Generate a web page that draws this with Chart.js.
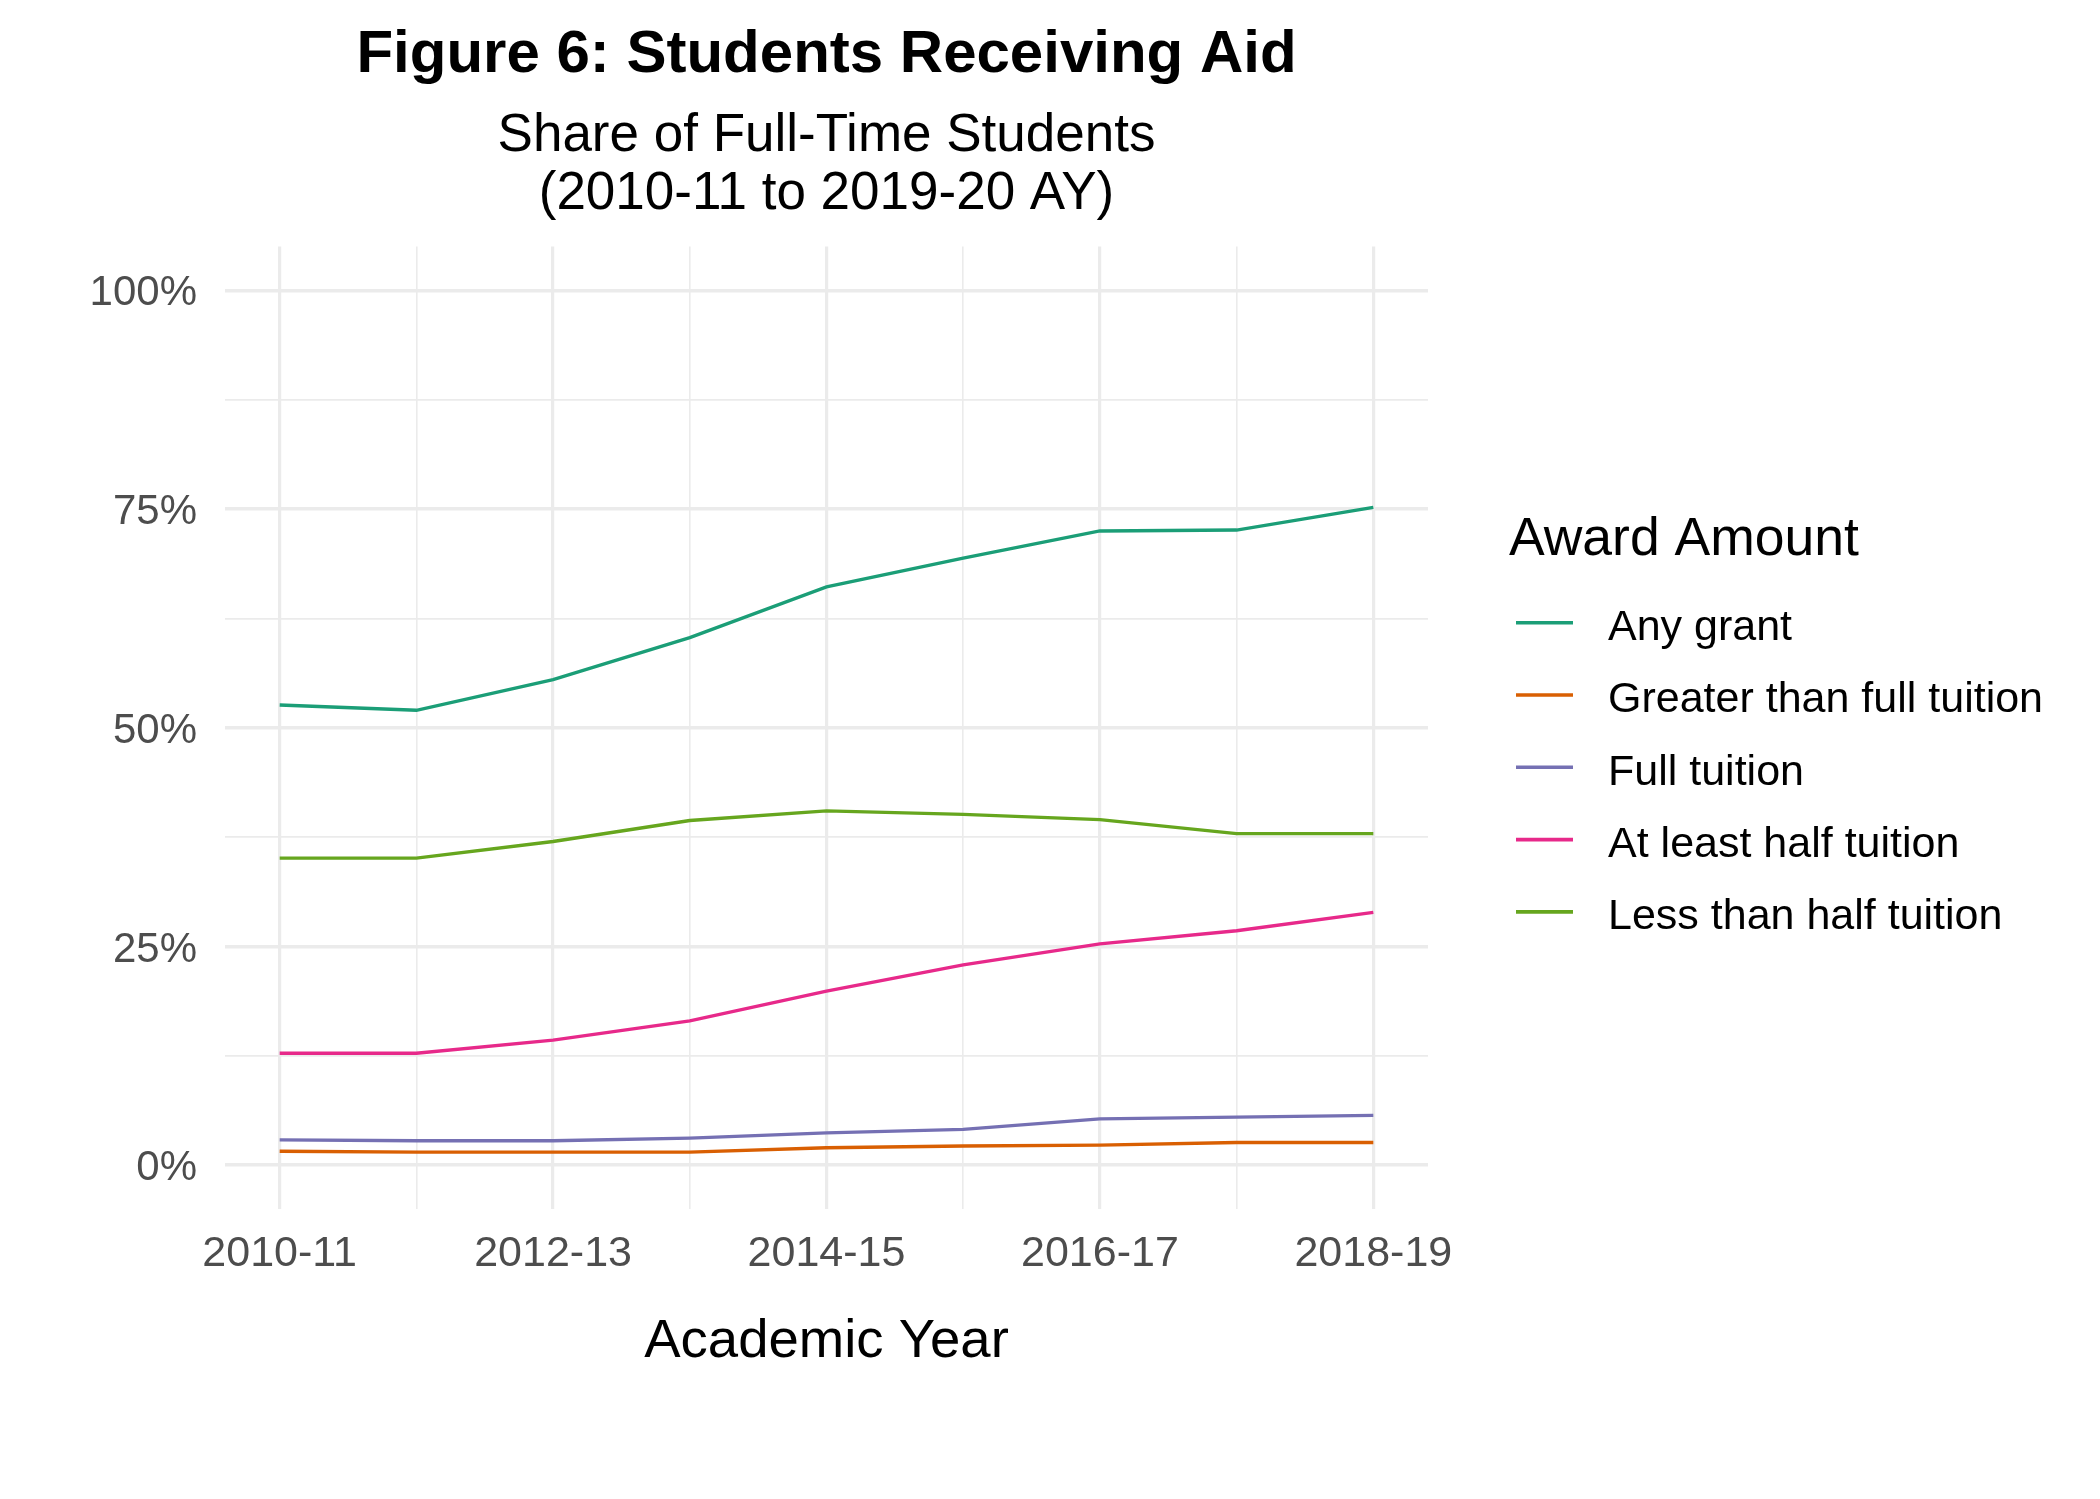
<!DOCTYPE html>
<html>
<head>
<meta charset="utf-8">
<title>Figure 6: Students Receiving Aid</title>
<script src="https://cdn.jsdelivr.net/npm/chart.js@4.4.1/dist/chart.umd.min.js"></script>
<style>
  html, body { margin: 0; padding: 0; background: #ffffff; }
  #wrap { width: 2100px; height: 1499px; }
</style>
</head>
<body>
<div id="wrap"><canvas id="c" width="2100" height="1499"></canvas></div>
<script>
// ---- Data ----
const categories = ['2010-11','2011-12','2012-13','2013-14','2014-15','2015-16','2016-17','2017-18','2018-19'];
const xTickLabels = ['2010-11','2012-13','2014-15','2016-17','2018-19'];
const yTickLabels = ['0%','25%','50%','75%','100%'];
const seriesNames = ['Any grant','Greater than full tuition','Full tuition','At least half tuition','Less than half tuition'];
const anyGrant        = [52.6, 52.0, 55.5, 60.3, 66.1, 69.4, 72.5, 72.6, 75.2];
const greaterThanFull = [1.6, 1.5, 1.5, 1.5, 2.0, 2.2, 2.3, 2.6, 2.6];
const fullTuition     = [2.9, 2.8, 2.8, 3.1, 3.7, 4.1, 5.3, 5.5, 5.7];
const atLeastHalf     = [12.8, 12.8, 14.3, 16.5, 19.9, 22.9, 25.3, 26.8, 28.9];
const lessThanHalf    = [35.1, 35.1, 37.0, 39.4, 40.5, 40.1, 39.5, 37.9, 37.9];
const seriesColors = ['#1B9E77', '#D95F02', '#7570B3', '#E7298A', '#66A61E'];

const FONT = "'Liberation Sans', Arial, Helvetica, sans-serif";
const seriesValues = [anyGrant, greaterThanFull, fullTuition, atLeastHalf, lessThanHalf];

const datasets = seriesValues.map((vals, k) => ({
  label: seriesNames[k],
  data: vals.map((v, i) => ({ x: i, y: v })),
  borderColor: seriesColors[k],
  backgroundColor: seriesColors[k],
  borderWidth: 3.4,
  pointRadius: 0,
  tension: 0,
  fill: false
}));

// custom legend, ggplot style
const legendPlugin = {
  id: 'ggLegend',
  afterDraw(chart) {
    const ctx = chart.ctx;
    ctx.save();
    ctx.fillStyle = '#000000';
    ctx.textAlign = 'left';
    ctx.textBaseline = 'alphabetic';
    ctx.font = '53.5px ' + FONT;
    ctx.fillText('Award Amount', 1509, 555);
    ctx.font = '43px ' + FONT;
    chart.data.datasets.forEach((ds, k) => {
      const base = 640 + k * 72.3;
      const ky = base - 17.3;
      ctx.strokeStyle = ds.borderColor;
      ctx.lineWidth = 3.6;
      ctx.beginPath();
      ctx.moveTo(1516, ky);
      ctx.lineTo(1573, ky);
      ctx.stroke();
      ctx.fillStyle = '#000000';
      ctx.fillText(ds.label, 1608, base);
    });
    ctx.restore();
  }
};

new Chart(document.getElementById('c'), {
  type: 'line',
  data: { datasets },
  plugins: [legendPlugin],
  options: {
    responsive: false,
    animation: false,
    devicePixelRatio: 1,
    layout: { padding: { left: 0, right: 672, top: 0, bottom: 124.5 } },
    plugins: {
      legend: { display: false },
      tooltip: { enabled: false },
      title: {
        display: true,
        fullSize: false,
        text: 'Figure 6: Students Receiving Aid',
        color: '#000000',
        font: { family: FONT, size: 60, weight: 'bold', lineHeight: 1.2 },
        padding: { top: 19.7, bottom: 0 }
      },
      subtitle: {
        display: true,
        fullSize: false,
        text: ['Share of Full-Time Students', '(2010-11 to 2019-20 AY)'],
        color: '#000000',
        font: { family: FONT, size: 53, lineHeight: 1.0868 },
        padding: { top: 16.0, bottom: 23.7 }
      }
    },
    scales: {
      x: {
        type: 'linear',
        min: -0.4,
        max: 8.4,
        afterBuildTicks: (s) => { s.ticks = categories.map((c, i) => ({ value: i })); },
        afterFit: (s) => { s.height = 165.5; },
        border: { display: false },
        grid: {
          drawTicks: false,
          color: '#EBEBEB',
          lineWidth: (c) => (c.tick && c.tick.value % 2 === 0) ? 3.2 : 1.6
        },
        ticks: {
          padding: 19.7,
          color: '#4D4D4D',
          font: { family: FONT, size: 43, lineHeight: 1.2 },
          maxRotation: 0,
          autoSkip: false,
          callback: (v) => (v % 2 === 0) ? xTickLabels[v / 2] : ''
        },
        title: {
          display: true,
          text: 'Academic Year',
          color: '#000000',
          font: { family: FONT, size: 54.5, lineHeight: 1.2 },
          padding: { top: 0, bottom: 0 }
        }
      },
      y: {
        type: 'linear',
        min: -5,
        max: 105,
        afterBuildTicks: (s) => {
          const t = [];
          for (let i = 0; i <= 8; i++) t.push({ value: i * 12.5 });
          s.ticks = t;
        },
        afterFit: (s) => { s.width = 225; },
        border: { display: false },
        grid: {
          drawTicks: false,
          color: '#EBEBEB',
          lineWidth: (c) => (c.tick && c.tick.value % 25 === 0) ? 3.6 : 1.7
        },
        ticks: {
          padding: 28,
          labelOffset: 3.4,
          color: '#4D4D4D',
          font: { family: FONT, size: 42, lineHeight: 1.2 },
          autoSkip: false,
          callback: (v) => (v % 25 === 0) ? yTickLabels[v / 25] : ''
        }
      }
    }
  }
});
</script>
</body>
</html>
